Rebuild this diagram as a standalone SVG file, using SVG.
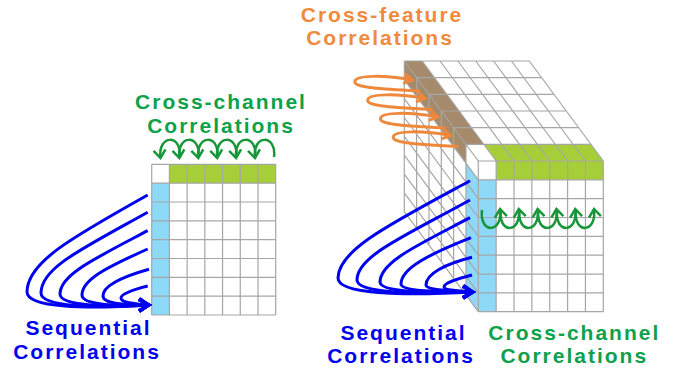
<svg xmlns="http://www.w3.org/2000/svg" width="674" height="370" viewBox="0 0 674 370">
<style>
.t{font-family:"Liberation Sans",Arial,sans-serif;font-weight:bold;font-size:21px;letter-spacing:2px;text-anchor:middle}
.gr{fill:none;stroke:#a6a6a6;stroke-width:1.2}
.ga{fill:none;stroke:#17963a;stroke-width:2.5;marker-end:url(#mg)}
.ba{fill:none;stroke:#0000f0;stroke-width:3;marker-end:url(#mb)}
.oa{fill:none;stroke:#f0883c;stroke-width:3;marker-end:url(#mo)}
</style>
<defs>
<marker id="mg" markerUnits="userSpaceOnUse" viewBox="-12 -8 16 16" markerWidth="16" markerHeight="16" refX="0" refY="0" orient="auto" overflow="visible"><path d="M-8,-6 L0,0 L-8,6" fill="none" stroke="#17963a" stroke-width="2.5"/></marker>
<marker id="mb" markerUnits="userSpaceOnUse" viewBox="-14 -8 18 16" markerWidth="18" markerHeight="16" refX="0" refY="0" orient="auto" overflow="visible"><path d="M-10,-6 L0,0 L-10,6" fill="none" stroke="#0000f0" stroke-width="3"/></marker>
<marker id="mo" markerUnits="userSpaceOnUse" viewBox="-12 -8 16 16" markerWidth="16" markerHeight="16" refX="0" refY="0" orient="auto" overflow="visible"><path d="M-8,-5 L0,0 L-8,5" fill="none" stroke="#f0883c" stroke-width="3"/></marker>
</defs>

<g id="left-grid">
<rect x="151.7" y="164.3" width="124" height="150.7" fill="#ffffff"/>
<rect x="169.41" y="164.3" width="106.29" height="18.84" fill="#a6ce39"/>
<rect x="151.7" y="183.14" width="17.71" height="131.86" fill="#8ed8f8"/>
<path class="gr" d="M151.7,164.3V315M169.41,164.3V315M187.13,164.3V315M204.84,164.3V315M222.56,164.3V315M240.27,164.3V315M257.99,164.3V315M275.7,164.3V315M151.7,164.3H275.7M151.7,183.14H275.7M151.7,201.98H275.7M151.7,220.81H275.7M151.7,239.65H275.7M151.7,258.49H275.7M151.7,277.33H275.7M151.7,296.16H275.7M151.7,315H275.7"/>
</g>

<g id="cube">
<polygon points="404.3,61 478.3,161 478.3,311.7 404.3,211.7" fill="#ffffff"/>
<polygon points="404.3,61 529.3,61 603.3,161 478.3,161" fill="#ffffff"/>
<polygon points="404.3,61 422.16,61 483.83,144.33 465.97,144.33 465.97,163.17 404.3,79.84" fill="#a58a6c"/>
<polygon points="483.83,144.33 590.97,144.33 603.3,161 496.16,161" fill="#a6ce39"/>
<polygon points="465.97,163.17 478.3,179.84 478.3,311.7 465.97,295.03" fill="#8ed8f8"/>
<path class="gr" d="M404.3,61V211.7M416.63,77.67V228.37M428.97,94.33V245.03M441.3,111V261.7M453.63,127.67V278.37M465.97,144.33V295.03
M404.3,61L478.3,161M404.3,79.84L478.3,179.84M404.3,98.68L478.3,198.68M404.3,117.51L478.3,217.51M404.3,136.35L478.3,236.35M404.3,155.19L478.3,255.19M404.3,174.03L478.3,274.03M404.3,192.86L478.3,292.86M404.3,211.7L478.3,311.7
M422.16,61L496.16,161M440.01,61L514.01,161M457.87,61L531.87,161M475.73,61L549.73,161M493.59,61L567.59,161M511.44,61L585.44,161M529.3,61L603.3,161
M404.3,61H529.3M416.63,77.67H541.63M428.97,94.33H553.97M441.3,111H566.3M453.63,127.67H578.63M465.97,144.33H590.97"/>
</g>

<g id="front-grid">
<rect x="478.3" y="161" width="125" height="150.7" fill="#ffffff"/>
<rect x="496.16" y="161" width="107.14" height="18.84" fill="#a6ce39"/>
<rect x="478.3" y="179.84" width="17.86" height="131.86" fill="#8ed8f8"/>
<path class="gr" d="M478.3,161V311.7M496.16,161V311.7M514.01,161V311.7M531.87,161V311.7M549.73,161V311.7M567.59,161V311.7M585.44,161V311.7M603.3,161V311.7M478.3,161H603.3M478.3,179.84H603.3M478.3,198.68H603.3M478.3,217.51H603.3M478.3,236.35H603.3M478.3,255.19H603.3M478.3,274.03H603.3M478.3,292.86H603.3M478.3,311.7H603.3"/>
</g>

<g id="connectors">
<path class="ga" d="M179.5,157C182.5,134 157.5,134 160.5,158"/>
<path class="ga" d="M198.4,157C201.4,134 176.4,134 179.4,158"/>
<path class="ga" d="M217.3,157C220.3,134 195.3,134 198.3,158"/>
<path class="ga" d="M236.2,157C239.2,134 214.2,134 217.2,158"/>
<path class="ga" d="M255.1,157C258.1,134 233.1,134 236.1,158"/>
<path class="ga" d="M274,157C277,134 252,134 255,158"/>

<path class="ga" d="M482,210C479,234 503,234 500,209"/>
<path class="ga" d="M500.8,210C497.8,234 521.8,234 518.8,209"/>
<path class="ga" d="M519.6,210C516.6,234 540.6,234 537.6,209"/>
<path class="ga" d="M538.4,210C535.4,234 559.4,234 556.4,209"/>
<path class="ga" d="M557.2,210C554.2,234 578.2,234 575.2,209"/>
<path class="ga" d="M576,210C573,234 597,234 594,209"/>

<path class="ba" d="M147.7,195C69,239 27,263 27,292C27,308 87,309 149,305"/>
<path class="ba" d="M147.7,212.3C80,250 41,268 41,293C41,307 95,308 149,305"/>
<path class="ba" d="M147.7,230.7C92,260 60,275 60,294C60,306 105,307 149,305"/>
<path class="ba" d="M147.7,249C105,268 82,280 82,295C82,305 115,306 149,305"/>
<path class="ba" d="M149,269.3C118,278 103,287 103,296C103,304 125,305 149,305"/>
<path class="ba" d="M147.7,286C132,290 121,294 121,298C121,303 135,304 149,305"/>

<path class="ba" d="M470,180.7C390,224 338,250 338,278C338,294 400,296 473,292"/>
<path class="ba" d="M470,200C405,236 357,256 357,280C357,293 412,294 473,292"/>
<path class="ba" d="M470,217.7C418,245 380,262 380,282C380,292 425,293 473,292"/>
<path class="ba" d="M471,237.7C430,254 401,268 401,284C401,291 435,292 473,292"/>
<path class="ba" d="M472,257.3C445,264 426,274 426,285C426,290 450,291 473,292"/>
<path class="ba" d="M472,275C457,279 444,283 444,287C444,290 460,291 473,292"/>

<path class="oa" d="M420,91C385,89 352,88 355,81C357,75 385,75 412,80"/>
<path class="oa" d="M432.8,109.5C397.8,107.5 364.8,106.5 367.8,99.5C369.8,93.5 397.8,93.5 424.8,98.5"/>
<path class="oa" d="M445.6,128C410.6,126 377.6,125 380.6,118C382.6,112 410.6,112 437.6,117"/>
<path class="oa" d="M458.4,146.5C423.4,144.5 390.4,143.5 393.4,136.5C395.4,130.5 423.4,130.5 450.4,135.5"/>
</g>

<g id="labels">
<text class="t" x="221" y="109" fill="#0ea14b">Cross-channel</text>
<text class="t" x="221" y="133.3" fill="#0ea14b">Correlations</text>
<text class="t" x="382" y="21.7" fill="#f08a3c">Cross-feature</text>
<text class="t" x="380" y="45" fill="#f08a3c">Correlations</text>
<text class="t" x="88.5" y="335" fill="#0000f0">Sequential</text>
<text class="t" x="87" y="359.3" fill="#0000f0">Correlations</text>
<text class="t" x="403.5" y="340" fill="#0000f0">Sequential</text>
<text class="t" x="401" y="362.7" fill="#0000f0">Correlations</text>
<text class="t" x="574.3" y="340" fill="#0ea14b">Cross-channel</text>
<text class="t" x="574.3" y="362.7" fill="#0ea14b">Correlations</text>
</g>
</svg>
